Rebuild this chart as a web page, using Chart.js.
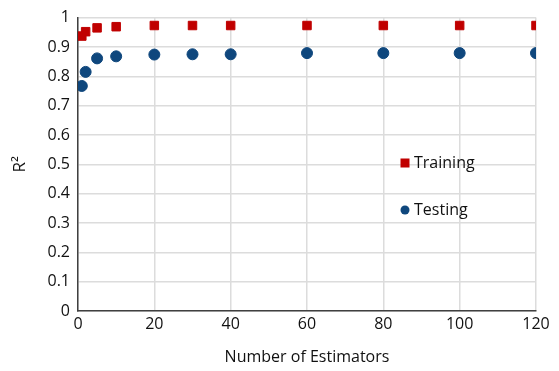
<!DOCTYPE html>
<html>
<head>
<meta charset="utf-8">
<script src="https://cdn.jsdelivr.net/npm/chart.js@4/dist/chart.umd.min.js"></script>
<style>
  body { margin: 0; background: #fff; }
  #wrap { width: 559px; height: 371px; }
</style>
</head>
<body>
<div id="wrap"><canvas id="myChart" width="559" height="371"></canvas></div>
<script>
// data
var estimators = [1, 2, 5, 10, 20, 30, 40, 60, 80, 100, 120];
var training = [0.937, 0.952, 0.965, 0.969, 0.973, 0.973, 0.973, 0.973, 0.973, 0.973, 0.973];
var testing = [0.767, 0.815, 0.861, 0.868, 0.874, 0.875, 0.875, 0.879, 0.879, 0.879, 0.879];
var seriesNames = ["Training", "Testing"];

var font = "'Open Sans', 'Liberation Sans', sans-serif";

function toPoints(xs, ys) {
    return xs.map(function (x, i) { return { x: x, y: ys[i] }; });
}

// legend drawn inside the plot, like the original
var insideLegend = {
    id: 'insideLegend',
    afterDraw: function (chart) {
        var c = chart.ctx;
        var items = chart.data.datasets;
        var x0 = 405, ys = [163, 210];
        c.save();
        c.font = "16px " + font;
        c.textBaseline = 'middle';
        items.forEach(function (ds, i) {
            c.fillStyle = ds.backgroundColor;
            if (ds.pointStyle === 'rect') {
                c.fillRect(x0 - 4.5, ys[i] - 4.5, 9, 9);
            } else {
                c.beginPath();
                c.arc(x0, ys[i], 4.5, 0, Math.PI * 2);
                c.fill();
            }
            c.fillStyle = '#111';
            c.fillText(ds.label, x0 + 9, ys[i]);
        });
        c.restore();
    }
};

var ctx = document.getElementById('myChart').getContext('2d');
var chart = new Chart(ctx, {
    type: 'scatter',
    data: {
        datasets: [
            {
                label: seriesNames[0],
                data: toPoints(estimators, training),
                backgroundColor: '#C00000',
                borderColor: '#C00000',
                pointStyle: 'rect',
                pointRadius: 6,
                pointHoverRadius: 6
            },
            {
                label: seriesNames[1],
                data: toPoints(estimators, testing),
                backgroundColor: '#0F477D',
                borderColor: '#0F477D',
                pointStyle: 'circle',
                pointRadius: 5.5,
                pointHoverRadius: 5.5
            }
        ]
    },
    options: {
        responsive: false,
        animation: false,
        layout: { padding: { top: 14, right: 23, left: 0, bottom: 0 } },
        plugins: {
            legend: { display: false },
            tooltip: { enabled: false }
        },
        scales: {
            x: {
                type: 'linear',
                min: 0,
                max: 120,
                ticks: { stepSize: 20, color: '#111', font: { family: font, size: 16 }, padding: 4 },
                grid: { color: '#DCDCDC', lineWidth: 1.5, drawTicks: false },
                border: { color: '#404040', width: 1.5 },
                title: { display: true, text: 'Number of Estimators', color: '#111', font: { family: font, size: 16 }, padding: { top: 0 } },
                afterFit: function (s) { s.height = 60; }
            },
            y: {
                min: 0,
                max: 1,
                ticks: { stepSize: 0.1, color: '#111', font: { family: font, size: 16 }, padding: 8,
                    callback: function (v) { return Math.round(v * 10) / 10; } },
                grid: { color: '#DCDCDC', lineWidth: 1.5, drawTicks: false },
                border: { color: '#404040', width: 1.5 },
                title: { display: true, text: 'R²', color: '#111', font: { family: font, size: 17 }, padding: { top: 10, bottom: 0 } },
                afterFit: function (s) { s.width = 78; }
            }
        }
    },
    plugins: [insideLegend]
});
</script>
</body>
</html>
